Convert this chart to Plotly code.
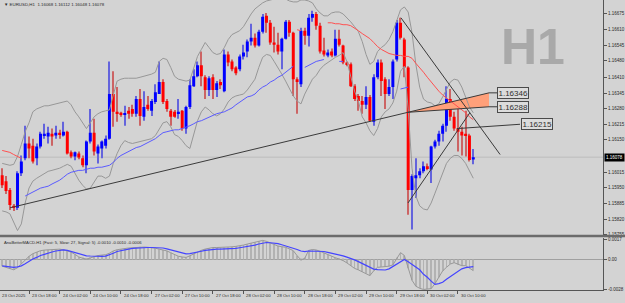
import plotly.graph_objects as go

# ---------------- data ----------------
symbol = "EURUSD,H1"
first_label = "23 Oct 2025"
tick_bars = [7, 15, 23, 31, 39, 47, 55, 63, 71, 79, 87, 95, 103, 111, 119]
tick_labels = ["23 Oct 18:00", "24 Oct 02:00", "24 Oct 10:00", "24 Oct 18:00",
               "27 Oct 02:00", "27 Oct 10:00", "27 Oct 18:00", "28 Oct 02:00",
               "28 Oct 10:00", "28 Oct 18:00", "29 Oct 02:00", "29 Oct 10:00",
               "29 Oct 18:00", "30 Oct 02:00", "30 Oct 10:00"]

opens = [
    1.16003, 1.15978, 1.15941, 1.15875, 1.15867, 1.16011, 1.16073, 1.16135, 1.16126, 1.16073,
    1.16122, 1.16168, 1.16164, 1.16176, 1.16168, 1.16180, 1.16168, 1.16184, 1.16098, 1.16081,
    1.16093, 1.16073, 1.16044, 1.16143, 1.16180, 1.16093, 1.16114, 1.16126, 1.16155, 1.16341,
    1.16267, 1.16263, 1.16254, 1.16271, 1.16279, 1.16259, 1.16320, 1.16246, 1.16296, 1.16271,
    1.16308, 1.16341, 1.16391, 1.16312, 1.16271, 1.16267, 1.16259, 1.16271, 1.16197, 1.16287,
    1.16374, 1.16415, 1.16461, 1.16411, 1.16358, 1.16411, 1.16358, 1.16391, 1.16353, 1.16506,
    1.16477, 1.16452, 1.16444, 1.16498, 1.16518, 1.16560, 1.16576, 1.16543, 1.16601, 1.16667,
    1.16638, 1.16556, 1.16547, 1.16518, 1.16572, 1.16642, 1.16597, 1.16403, 1.16382, 1.16605,
    1.16584, 1.16659, 1.16675, 1.16626, 1.16523, 1.16502, 1.16518, 1.16502, 1.16572, 1.16543,
    1.16473, 1.16465, 1.16374, 1.16333, 1.16312, 1.16296, 1.16329, 1.16226, 1.16411, 1.16473,
    1.16403, 1.16341, 1.16370, 1.16485, 1.16638, 1.16568, 1.16452, 1.15941, 1.15990, 1.16003,
    1.16019, 1.16040, 1.16027, 1.16122, 1.16143, 1.16176, 1.16209, 1.16320, 1.16246, 1.16197,
    1.16184, 1.16176, 1.16168, 1.16068]
highs = [
    1.16032, 1.15999, 1.15949, 1.15883, 1.16019, 1.16085, 1.16209, 1.16164, 1.16155, 1.16135,
    1.16184, 1.16217, 1.16205, 1.16197, 1.16209, 1.16192, 1.16226, 1.16188, 1.16106, 1.16102,
    1.16102, 1.16085, 1.16147, 1.16279, 1.16238, 1.16131, 1.16147, 1.16168, 1.16477, 1.16436,
    1.16370, 1.16267, 1.16292, 1.16287, 1.16296, 1.16333, 1.16362, 1.16353, 1.16333, 1.16320,
    1.16382, 1.16477, 1.16403, 1.16320, 1.16279, 1.16275, 1.16320, 1.16275, 1.16292, 1.16403,
    1.16444, 1.16477, 1.16518, 1.16419, 1.16415, 1.16424, 1.16395, 1.16403, 1.16527, 1.16518,
    1.16485, 1.16457, 1.16506, 1.16547, 1.16568, 1.16634, 1.16593, 1.16609, 1.16675, 1.16679,
    1.16650, 1.16622, 1.16597, 1.16576, 1.16650, 1.16650, 1.16601, 1.16411, 1.16617, 1.16617,
    1.16675, 1.16688, 1.16683, 1.16638, 1.16576, 1.16527, 1.16531, 1.16609, 1.16609, 1.16547,
    1.16477, 1.16473, 1.16382, 1.16341, 1.16333, 1.16374, 1.16337, 1.16424, 1.16485, 1.16485,
    1.16411, 1.16403, 1.16485, 1.16650, 1.16659, 1.16576, 1.16457, 1.16007, 1.16073, 1.16032,
    1.16060, 1.16052, 1.16126, 1.16151, 1.16188, 1.16217, 1.16374, 1.16362, 1.16267, 1.16279,
    1.16205, 1.16271, 1.16176, 1.16112]
lows = [
    1.15949, 1.15924, 1.15858, 1.15854, 1.15858, 1.15999, 1.16065, 1.16073, 1.16052, 1.16044,
    1.16114, 1.16155, 1.16135, 1.16126, 1.16155, 1.16155, 1.16164, 1.16089, 1.16073, 1.16065,
    1.16069, 1.16036, 1.16011, 1.16135, 1.16085, 1.16052, 1.16073, 1.16114, 1.16151, 1.16205,
    1.16226, 1.16246, 1.16209, 1.16238, 1.16246, 1.16246, 1.16209, 1.16230, 1.16271, 1.16250,
    1.16300, 1.16341, 1.16300, 1.16267, 1.16209, 1.16242, 1.16238, 1.16188, 1.16176, 1.16279,
    1.16370, 1.16411, 1.16374, 1.16320, 1.16333, 1.16320, 1.16329, 1.16362, 1.16349, 1.16457,
    1.16436, 1.16419, 1.16436, 1.16485, 1.16494, 1.16543, 1.16535, 1.16539, 1.16593, 1.16597,
    1.16547, 1.16514, 1.16506, 1.16444, 1.16568, 1.16580, 1.16333, 1.16259, 1.16370, 1.16547,
    1.16539, 1.16642, 1.16609, 1.16510, 1.16498, 1.16494, 1.16494, 1.16498, 1.16539, 1.16465,
    1.16457, 1.16370, 1.16312, 1.16271, 1.16259, 1.16279, 1.16226, 1.16209, 1.16403, 1.16333,
    1.16279, 1.16333, 1.16320, 1.16477, 1.16568, 1.16411, 1.15838, 1.15776, 1.15908, 1.15990,
    1.16011, 1.16023, 1.15970, 1.16114, 1.16126, 1.16143, 1.16184, 1.16230, 1.16188, 1.16102,
    1.16085, 1.16081, 1.16060, 1.16048]
closes = [
    1.15961, 1.15937, 1.15879, 1.15867, 1.16011, 1.16060, 1.16135, 1.16114, 1.16060, 1.16122,
    1.16176, 1.16176, 1.16180, 1.16164, 1.16180, 1.16172, 1.16184, 1.16093, 1.16081, 1.16098,
    1.16077, 1.16044, 1.16143, 1.16180, 1.16102, 1.16122, 1.16143, 1.16155, 1.16341, 1.16267,
    1.16259, 1.16254, 1.16259, 1.16259, 1.16259, 1.16320, 1.16250, 1.16287, 1.16279, 1.16312,
    1.16349, 1.16391, 1.16308, 1.16279, 1.16246, 1.16246, 1.16267, 1.16197, 1.16287, 1.16378,
    1.16415, 1.16461, 1.16415, 1.16358, 1.16407, 1.16358, 1.16386, 1.16378, 1.16506, 1.16473,
    1.16444, 1.16428, 1.16498, 1.16514, 1.16560, 1.16576, 1.16543, 1.16601, 1.16663, 1.16638,
    1.16556, 1.16547, 1.16518, 1.16572, 1.16642, 1.16597, 1.16403, 1.16395, 1.16605, 1.16584,
    1.16659, 1.16675, 1.16626, 1.16518, 1.16506, 1.16514, 1.16502, 1.16572, 1.16547, 1.16473,
    1.16465, 1.16374, 1.16320, 1.16312, 1.16296, 1.16329, 1.16230, 1.16411, 1.16473, 1.16395,
    1.16341, 1.16370, 1.16477, 1.16638, 1.16576, 1.16452, 1.15941, 1.15999, 1.16003, 1.16019,
    1.16040, 1.16032, 1.16122, 1.16143, 1.16176, 1.16209, 1.16320, 1.16246, 1.16197, 1.16184,
    1.16168, 1.16168, 1.16066, 1.16078]

bb_upper = [
    1.16052, 1.16048, 1.16044, 1.16048, 1.16081, 1.16131, 1.16184, 1.16221, 1.16267, 1.16279,
    1.16287, 1.16292, 1.16292, 1.16296, 1.16300, 1.16304, 1.16308, 1.16312, 1.16296, 1.16267,
    1.16246, 1.16221, 1.16197, 1.16221, 1.16246, 1.16259, 1.16267, 1.16271, 1.16275, 1.16337,
    1.16395, 1.16403, 1.16407, 1.16407, 1.16407, 1.16407, 1.16411, 1.16415, 1.16419, 1.16424,
    1.16432, 1.16477, 1.16490, 1.16485, 1.16452, 1.16415, 1.16403, 1.16399, 1.16395, 1.16399,
    1.16444, 1.16498, 1.16527, 1.16556, 1.16535, 1.16514, 1.16506, 1.16510, 1.16535, 1.16568,
    1.16589, 1.16597, 1.16605, 1.16622, 1.16650, 1.16675, 1.16696, 1.16708, 1.16721, 1.16729,
    1.16733, 1.16737, 1.16741, 1.16741, 1.16737, 1.16729, 1.16725, 1.16725, 1.16733, 1.16733,
    1.16729, 1.16721, 1.16696, 1.16679, 1.16667, 1.16667, 1.16679, 1.16683, 1.16683, 1.16675,
    1.16659, 1.16642, 1.16622, 1.16601, 1.16560, 1.16506, 1.16465, 1.16477, 1.16518, 1.16535,
    1.16547, 1.16568, 1.16601, 1.16650, 1.16692, 1.16704, 1.16683, 1.16597, 1.16465, 1.16370,
    1.16320, 1.16308, 1.16304, 1.16292, 1.16300, 1.16329, 1.16362, 1.16391, 1.16403, 1.16399,
    1.16370, 1.16329, 1.16287, 1.16263]
bb_lower = [
    1.15854, 1.15850, 1.15842, 1.15805, 1.15772, 1.15800, 1.15887, 1.15949, 1.15978, 1.15990,
    1.15999, 1.16007, 1.16019, 1.16023, 1.16027, 1.16032, 1.16040, 1.16048, 1.16040, 1.16011,
    1.15982, 1.15961, 1.15945, 1.15949, 1.15974, 1.15999, 1.15999, 1.15990, 1.15999, 1.16052,
    1.16093, 1.16126, 1.16147, 1.16139, 1.16135, 1.16139, 1.16143, 1.16147, 1.16151, 1.16155,
    1.16168, 1.16197, 1.16221, 1.16226, 1.16205, 1.16172, 1.16164, 1.16147, 1.16126, 1.16114,
    1.16172, 1.16230, 1.16267, 1.16287, 1.16275, 1.16259, 1.16250, 1.16259, 1.16279, 1.16308,
    1.16325, 1.16333, 1.16337, 1.16341, 1.16358, 1.16382, 1.16403, 1.16452, 1.16494, 1.16506,
    1.16502, 1.16477, 1.16452, 1.16424, 1.16395, 1.16362, 1.16333, 1.16312, 1.16300, 1.16341,
    1.16370, 1.16403, 1.16419, 1.16444, 1.16461, 1.16473, 1.16485, 1.16494, 1.16502, 1.16514,
    1.16477, 1.16419, 1.16353, 1.16312, 1.16246, 1.16221, 1.16188, 1.16168, 1.16197, 1.16246,
    1.16267, 1.16279, 1.16304, 1.16353, 1.16436, 1.16457, 1.16279, 1.16032, 1.15916, 1.15875,
    1.15862, 1.15858, 1.15887, 1.15928, 1.15970, 1.16011, 1.16052, 1.16073, 1.16085, 1.16085,
    1.16073, 1.16052, 1.16023, 1.15990]

ma_red = ([1.16106, 1.16102, 1.16098, 1.16089, 1.16081, 1.16073] + [None] * 71 +
          [1.16609, 1.16605] + [None] * 6 +
          [1.16638, 1.16638, 1.16634, 1.16634, 1.16630, 1.16630, 1.16626, 1.16617, 1.16605, 1.16593,
           1.16584, 1.16572, 1.16556, 1.16539, 1.16527, 1.16518, 1.16510, 1.16506, 1.16502, 1.16502,
           1.16498, 1.16498, 1.16490, 1.16469, 1.16452, 1.16432, 1.16411, 1.16391, 1.16370, 1.16353,
           1.16337, 1.16325, 1.16312, 1.16300, 1.16287, 1.16275, 1.16263, 1.16246, 1.16234])
ma_blue = ([None] * 6 +
           [1.15916, 1.15924, 1.15933, 1.15941, 1.15949, 1.15953, 1.15957, 1.15966, 1.15974, 1.15982,
            1.15994, 1.16007, 1.16015, 1.16019, 1.16023, 1.16023, 1.16027, 1.16032, 1.16032, 1.16036,
            1.16036, 1.16040, 1.16044, 1.16056, 1.16073, 1.16085, 1.16093, 1.16102, 1.16110, 1.16118,
            1.16122, 1.16131, 1.16139, 1.16147, 1.16155, 1.16168, 1.16180, 1.16184, 1.16188, 1.16192,
            1.16192, 1.16197, 1.16205, 1.16209, 1.16217, 1.16226, 1.16230, 1.16238, 1.16246, 1.16254,
            1.16259, 1.16263, 1.16267, 1.16275, 1.16283, 1.16296, 1.16308, 1.16320, 1.16329, 1.16333,
            1.16341, 1.16358, 1.16370, 1.16378, 1.16391, 1.16399, 1.16411, 1.16419, 1.16432, 1.16444,
            1.16457] +
           [None] * 2 + [1.16452, 1.16461, 1.16469, 1.16477, 1.16481, 1.16485] +
           [None] * 3 + [1.16477, 1.16477] + [None] * 14 +
           [1.16362, 1.16366, 1.16370] + [None] * 17)

macd_main = [
    -0.00058, -0.00068, -0.00081, -0.00089, -0.00071, -0.00038, 0.00000, 0.00026, 0.00049, 0.00064,
    0.00075, 0.00080, 0.00082, 0.00085, 0.00087, 0.00088, 0.00082, 0.00074, 0.00063, 0.00043,
    0.00021, 0.00010, 0.00003, 0.00013, 0.00024, 0.00033, 0.00037, 0.00040, 0.00053, 0.00073,
    0.00083, 0.00089, 0.00094, 0.00098, 0.00100, 0.00104, 0.00108, 0.00106, 0.00104, 0.00102,
    0.00096, 0.00088, 0.00081, 0.00073, 0.00057, 0.00043, 0.00027, 0.00021, 0.00017, 0.00031,
    0.00048, 0.00063, 0.00078, 0.00089, 0.00096, 0.00102, 0.00102, 0.00102, 0.00102, 0.00104,
    0.00108, 0.00112, 0.00116, 0.00123, 0.00132, 0.00140, 0.00148, 0.00156, 0.00163, 0.00155,
    0.00140, 0.00127, 0.00115, 0.00109, 0.00104, 0.00091, 0.00075, 0.00032, -0.00004, 0.00009,
    0.00077, 0.00085, 0.00081, 0.00070, 0.00055, 0.00039, 0.00027, 0.00014, 0.00003, -0.00010,
    -0.00030, -0.00054, -0.00077, -0.00090, -0.00106, -0.00122, -0.00139, -0.00098, -0.00068, -0.00065,
    -0.00063, -0.00058, -0.00047, 0.00009, 0.00058, 0.00034, -0.00077, -0.00179, -0.00230, -0.00248,
    -0.00258, -0.00255, -0.00251, -0.00208, -0.00153, -0.00099, -0.00068, -0.00040, -0.00028, -0.00043,
    -0.00054, -0.00054, -0.00072, -0.00096]
macd_signal = [
    -0.00055, -0.00060, -0.00064, -0.00068, -0.00064, -0.00055, -0.00038, -0.00017, 0.00003, 0.00017,
    0.00034, 0.00043, 0.00055, 0.00064, 0.00072, 0.00078, 0.00082, 0.00077, 0.00068, 0.00062,
    0.00054, 0.00043, 0.00031, 0.00029, 0.00026, 0.00023, 0.00026, 0.00028, 0.00038, 0.00053,
    0.00068, 0.00077, 0.00082, 0.00089, 0.00095, 0.00098, 0.00099, 0.00101, 0.00102, 0.00102,
    0.00102, 0.00102, 0.00098, 0.00091, 0.00083, 0.00075, 0.00064, 0.00054, 0.00047, 0.00049,
    0.00058, 0.00065, 0.00070, 0.00077, 0.00082, 0.00088, 0.00088, 0.00089, 0.00090, 0.00091,
    0.00091, 0.00095, 0.00100, 0.00105, 0.00111, 0.00115, 0.00123, 0.00132, 0.00140, 0.00145,
    0.00143, 0.00140, 0.00136, 0.00126, 0.00116, 0.00109, 0.00098, 0.00085, 0.00072, 0.00066,
    0.00072, 0.00072, 0.00071, 0.00068, 0.00068, 0.00061, 0.00054, 0.00047, 0.00040, 0.00030,
    0.00019, 0.00010, -0.00004, -0.00019, -0.00036, -0.00054, -0.00068, -0.00083, -0.00088, -0.00089,
    -0.00091, -0.00081, -0.00062, -0.00040, -0.00017, 0.00000, -0.00021, -0.00043, -0.00064, -0.00089,
    -0.00128, -0.00153, -0.00187, -0.00215, -0.00208, -0.00196, -0.00170, -0.00149, -0.00123, -0.00102,
    -0.00081, -0.00071, -0.00066, -0.00062]

price_ticks = [1.16675, 1.16610, 1.16545, 1.16480, 1.16410, 1.16345, 1.16280, 1.16215,
               1.16150, 1.16015, 1.15950, 1.15885, 1.15820, 1.15755]
macd_ticks = [0.0017, 0.0, -0.00255]
macd_tick_text = ["0.0017", "0.00", "-0.0028"]

# trend objects: (bar position, price) anchors
trend_long_t, trend_long_p = [2.04, 127.1], [1.15867, 1.16346]
wedge_low_t, wedge_low_p = [105.95, 127.1], [1.16265, 1.16288]
trend_desc_t, trend_desc_p = [104.1, 130.0], [1.16659, 1.16089]
trend_rise_t, trend_rise_p = [105.95, 122.1], [1.15887, 1.16263]
trend_flat_t, trend_flat_p = [118.7, 135.2], [1.16197, 1.16215]
wedge_t = [105.95, 127.1, 127.1]
wedge_p = [1.16265, 1.16346, 1.16288]
label_t = [129.2, 129.2, 135.4]
label_p = [1.16346, 1.16288, 1.16215]

# ---------------- styling / layout constants ----------------
W, H = 625, 303
PLOT_R = 603
MAIN_BOTTOM = 237
MACD_TOP, MACD_BOTTOM = 240, 293
BAR_PX0, BAR_DX = 2.2, 3.83
BG = "#d3d3d3"
AXIS = "#555555"
TXT = "#2a2a2a"
FONT = "Liberation Sans, Arial, sans-serif"
x_range = [(0 - BAR_PX0) / BAR_DX, (PLOT_R - BAR_PX0) / BAR_DX]
y_main_range = [1.15755, 1.16733]
macd_range = [-0.002635, 0.00187]

n = len(closes)
idx = list(range(n))
bull = [c >= o for o, c in zip(opens, closes)]
body_base = [min(o, c) for o, c in zip(opens, closes)]
body_len = [max(abs(c - o), 0.00003) for o, c in zip(opens, closes)]
wick_len = [h - l for h, l in zip(highs, lows)]

fig = go.Figure()

# orange wedge (background object)
fig.add_trace(go.Scatter(x=wedge_t, y=wedge_p, mode="lines", fill="toself",
                         fillcolor="#ffa07a", line=dict(width=0), hoverinfo="skip"))
# Bollinger bands
for band in (bb_upper, bb_lower):
    fig.add_trace(go.Scatter(x=idx, y=band, mode="lines",
                             line=dict(color="#979797", width=1), hoverinfo="skip"))
# moving averages
fig.add_trace(go.Scatter(x=idx, y=ma_red, mode="lines", connectgaps=False,
                         line=dict(color="#ff5050", width=1)))
fig.add_trace(go.Scatter(x=idx, y=ma_blue, mode="lines", connectgaps=False,
                         line=dict(color="#5a5aff", width=1)))
# candles: wicks then bodies
fig.add_trace(go.Bar(x=idx, y=wick_len, base=lows, width=0.28,
                     marker=dict(color=["#6464dc" if b else "#cc6464" for b in bull],
                                 line=dict(width=0))))
fig.add_trace(go.Bar(x=idx, y=body_len, base=body_base, width=0.78,
                     marker=dict(color=["#0000ff" if b else "#ff0000" for b in bull],
                                 line=dict(width=0))))
# trend lines
for tt, pp in ((trend_long_t, trend_long_p), (wedge_low_t, wedge_low_p),
               (trend_desc_t, trend_desc_p), (trend_rise_t, trend_rise_p),
               (trend_flat_t, trend_flat_p)):
    fig.add_trace(go.Scatter(x=tt, y=pp, mode="lines", line=dict(color="#3a3a3a", width=1)))
# connectors to price labels
fig.add_trace(go.Scatter(x=[trend_long_t[1], label_t[0], None, wedge_low_t[1], label_t[1]],
                         y=[trend_long_p[1], label_p[0], None, wedge_low_p[1], label_p[1]],
                         mode="lines", line=dict(color="#3a3a3a", width=1)))

# MACD panel
fig.add_trace(go.Bar(x=idx, y=macd_main, yaxis="y2", width=0.22,
                     marker=dict(color="#b2b2b2", line=dict(width=0))))
fig.add_trace(go.Scatter(x=idx, y=macd_main, yaxis="y2", mode="lines",
                         line=dict(color="#989898", width=1)))
fig.add_trace(go.Scatter(x=idx, y=macd_signal, yaxis="y2", mode="lines",
                         line=dict(color="#4444ff", width=1.2)))

annotations = []
info = f"\u25bc {symbol}  {opens[-1]:.5f} {highs[-1]:.5f} {lows[-1]:.5f} {closes[-1]:.5f}"
annotations.append(dict(x=2 / W, y=1 - 4.5 / H, xref="paper", yref="paper", text=info,
                        showarrow=False, xanchor="left", yanchor="middle",
                        font=dict(size=4.4, color=TXT, family=FONT)))
macd_title = (f"AnaBetterMACD-H1 (Fast: 5, Slow: 27, Signal: 5) "
              f"{macd_main[-1]:.4f} {macd_main[-1]:.4f} {macd_signal[-1]:.4f}")
annotations.append(dict(x=2 / W, y=1 - 244.5 / H, xref="paper", yref="paper", text=macd_title,
                        showarrow=False, xanchor="left", yanchor="middle",
                        font=dict(size=4.2, color=TXT, family=FONT)))
annotations.append(dict(x=532.5 / W, y=1 - 47.5 / H, xref="paper", yref="paper", text="<b>H1</b>",
                        showarrow=False, xanchor="center", yanchor="middle",
                        font=dict(size=50, color="#a9a9a9", family=FONT)))
for t, p in zip(label_t, label_p):
    annotations.append(dict(x=t, y=p, xref="x", yref="y", text=f"{p:.5f}", showarrow=False,
                            xanchor="left", yanchor="middle", bgcolor="#dcdcdc",
                            bordercolor="#4a4a4a", borderwidth=1, borderpad=0.5,
                            font=dict(size=8, color="#303030", family=FONT)))
annotations.append(dict(x=604 / W, y=closes[-1], xref="paper", yref="y", text=f"{closes[-1]:.5f}",
                        showarrow=False, xanchor="left", yanchor="middle", bgcolor="#000000",
                        borderpad=1, font=dict(size=4.5, color="#ffffff", family=FONT)))
annotations.append(dict(x=x_range[0], y=1 - 298 / H, xref="x", yref="paper", text=first_label,
                        showarrow=False, xanchor="left", yanchor="middle",
                        font=dict(size=4.3, color=TXT, family=FONT)))
for b, lab in zip(tick_bars, tick_labels):
    annotations.append(dict(x=b, y=1 - 298 / H, xref="x", yref="paper", text=lab, xshift=1,
                            showarrow=False, xanchor="left", yanchor="middle",
                            font=dict(size=4.3, color=TXT, family=FONT)))

shapes = [
    dict(type="line", xref="x", yref="y", x0=x_range[0], x1=x_range[1],
         y0=closes[-1], y1=closes[-1], line=dict(color="#bcbcbc", width=1), layer="below"),
    dict(type="rect", xref="paper", yref="paper", x0=0, x1=1,
         y0=1 - 239.5 / H, y1=1 - 237 / H, fillcolor="#6b6b6b", line=dict(width=0)),
]

fig.update_layout(
    width=W, height=H, margin=dict(l=0, r=0, t=0, b=0),
    paper_bgcolor=BG, plot_bgcolor=BG, showlegend=False, barmode="overlay",
    hovermode=False,
    xaxis=dict(domain=[0, PLOT_R / W], range=x_range, anchor="y2", showgrid=False,
               zeroline=False, showticklabels=False, ticks="outside", ticklen=3,
               tickcolor=AXIS, tickvals=tick_bars, showline=True, linecolor=AXIS, linewidth=1),
    yaxis=dict(domain=[1 - MAIN_BOTTOM / H, 1], range=y_main_range, side="right", anchor="x",
               showgrid=False, zeroline=False, tickvals=price_ticks,
               ticktext=[f"{v:.5f}" for v in price_ticks], ticks="outside", ticklen=3,
               tickcolor=AXIS, tickfont=dict(size=4.5, color=TXT, family=FONT),
               showline=True, linecolor=AXIS, linewidth=1),
    yaxis2=dict(domain=[1 - MACD_BOTTOM / H, 1 - MACD_TOP / H], range=macd_range, side="right",
                anchor="x", showgrid=False, zeroline=True, zerolinecolor="#a0a0a0",
                zerolinewidth=1, tickvals=macd_ticks, ticktext=macd_tick_text,
                ticks="outside", ticklen=3, tickcolor=AXIS,
                tickfont=dict(size=4.5, color=TXT, family=FONT),
                showline=True, linecolor=AXIS, linewidth=1),
    annotations=annotations, shapes=shapes,
)

fig.write_html("out.html", config={"displayModeBar": False})
